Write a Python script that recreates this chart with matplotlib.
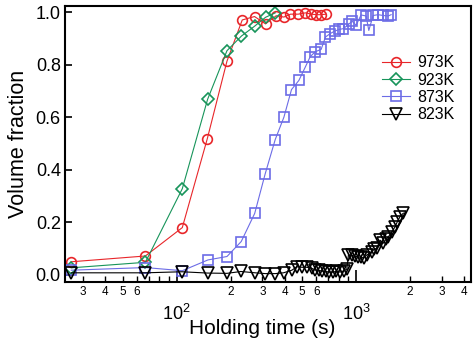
import numpy as np
from matplotlib import pyplot as plt
from matplotlib import ticker

plt.rcParams['font.family'] = ['Liberation Sans', 'DejaVu Sans']
plt.rcParams['mathtext.fontset'] = 'custom'
plt.rcParams['mathtext.rm'] = 'Liberation Sans'

# 973K
t_973 = [25.8, 66.8, 107.3, 147.9, 190.4, 231.7, 271.3, 312.4, 358.4, 395.6,
         430.5, 475.3, 521.9, 563.6, 598.7, 636, 680.6]
v_973 = [0.050, 0.072, 0.180, 0.518, 0.813, 0.970, 0.983, 0.955, 0.986, 0.981,
         0.992, 0.992, 0.997, 0.992, 0.990, 0.990, 0.992]

# 923K
t_923 = [25.8, 66.8, 107.3, 148.5, 190.4, 229.5, 271.3, 312.4, 354]
v_923 = [0.027, 0.048, 0.328, 0.668, 0.853, 0.909, 0.946, 0.980, 0.997]

# 873K
t_873 = [25.8, 66.8, 107.3, 149.2, 190.4, 228.7, 271.9, 311.2, 353.9, 395.6,
         436.1, 479.6, 520, 554.3, 591, 638.3, 674.5, 716.5, 760.9, 807.2,
         849.6, 910.6, 950.2, 1000, 1066, 1137, 1177, 1244, 1327, 1414,
         1508, 1567]
v_873 = [0.018, 0.028, 0.016, 0.057, 0.070, 0.127, 0.234, 0.385, 0.515, 0.600,
         0.705, 0.740, 0.790, 0.830, 0.849, 0.858, 0.905, 0.918, 0.928, 0.934,
         0.937, 0.954, 0.965, 0.950, 0.989, 0.985, 0.930, 0.987, 0.990, 0.987,
         0.985, 0.990]

# 823K
t_823 = [25.8, 66.8, 106.9, 148.8, 190.4, 227.9, 273.7, 311.2, 353.9, 393.6,
         438.3, 467.4, 498.3, 531.3, 566.5, 591, 618.2, 646.6, 676.2, 707.3,
         739.8, 773.7, 814.5, 851.9, 887.6, 906, 944, 981, 1020, 1060,
         1101, 1152, 1223, 1260, 1304, 1361, 1420, 1470, 1514, 1581,
         1650, 1699, 1759, 1834]
v_823 = [0.008, 0.008, 0.012, 0.007, 0.006, 0.013, 0.008, 0.005, 0.005, 0.008,
         0.018, 0.031, 0.029, 0.029, 0.025, 0.019, 0.017, 0.015, 0.013, 0.011,
         0.011, 0.013, 0.011, 0.015, 0.022, 0.076, 0.075, 0.071, 0.069, 0.067,
         0.065, 0.077, 0.089, 0.097, 0.102, 0.132, 0.121, 0.136, 0.145, 0.164,
         0.183, 0.203, 0.222, 0.235]

minor_ticks = [30, 40, 50, 60, 70, 80, 90, 200, 300, 400, 500, 600, 700, 800, 900,
               2000, 3000, 4000]
minor_labels = ['3', '4', '5', '6', '', '', '', '2', '3', '4', '5', '6', '', '', '',
                '2', '3', '4']

fig = plt.figure(figsize=(4.76, 3.42), dpi=100)
ax = fig.add_axes([0.1366, 0.1754, 0.853, 0.807])

ax.plot(t_973, v_973, '-o', color='#e8262a', lw=0.8, ms=7, mfc='none', mew=1.2, label='973K')
ax.plot(t_923, v_923, '-D', color='#17945a', lw=0.8, ms=6.5, mfc='none', mew=1.2, label='923K')
ax.plot(t_873, v_873, '-s', color='#6c6ce6', lw=0.8, ms=7, mfc='none', mew=1.2, label='873K')
ax.plot(t_823, v_823, '-v', color='black', lw=0.8, ms=8.5, mfc='none', mew=1.2, label='823K')

ax.set_xscale('log')
ax.set_xlim(23.8, 4375)
ax.set_ylim(-0.027, 1.023)

ax.xaxis.set_major_locator(ticker.FixedLocator([100, 1000]))
ax.xaxis.set_major_formatter(ticker.FixedFormatter([r'$\mathregular{10^{2}}$', r'$\mathregular{10^{3}}$']))
ax.xaxis.set_minor_locator(ticker.FixedLocator(minor_ticks))
ax.xaxis.set_minor_formatter(ticker.FixedFormatter(minor_labels))
ax.tick_params(axis='x', which='major', direction='in', length=9, width=1.2, pad=16, labelsize=13)
ax.tick_params(axis='x', which='minor', direction='in', length=4, width=1.0, pad=3, labelsize=8.5)

ax.set_yticks([0.0, 0.2, 0.4, 0.6, 0.8, 1.0])
ax.set_yticklabels(['0.0', '0.2', '0.4', '0.6', '0.8', '1.0'])
ax.tick_params(axis='y', direction='in', length=5, width=1.2, pad=3, labelsize=13)

for s in ax.spines.values():
    s.set_linewidth(1.5)

ax.set_xlabel('Holding time (s)', fontsize=15)
ax.xaxis.set_label_coords(0.485, -0.19, transform=ax.transAxes)
ax.xaxis.label.set_va('baseline')
ax.set_ylabel('Volume fraction', fontsize=15.5, labelpad=5)

ax.legend(loc='upper left', bbox_to_anchor=(0.78, 0.822), frameon=False, fontsize=11.5,
          handlelength=1.8, handletextpad=0.45, labelspacing=0.15, borderpad=0, borderaxespad=0)

plt.savefig('out.png', dpi=100)
